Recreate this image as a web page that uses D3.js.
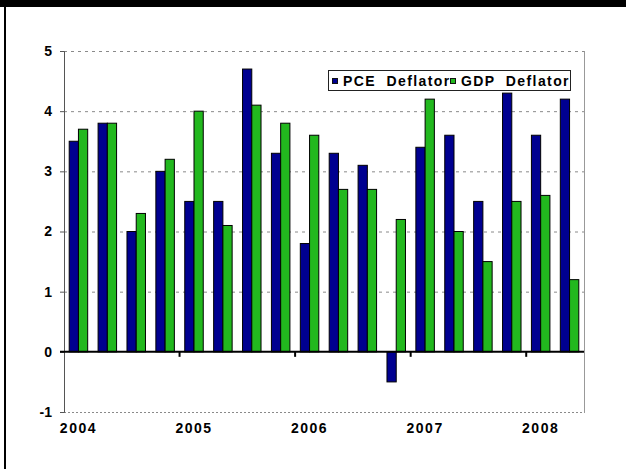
<!DOCTYPE html>
<html>
<head>
<meta charset="utf-8">
<script src="https://cdn.jsdelivr.net/npm/d3@7"></script>
<style>
  body { margin: 0; background: #fff; }
  text { font-family: "Liberation Sans", Arial, sans-serif; font-weight: bold; fill: #000; }
</style>
</head>
<body>
<div id="chart"></div>
<script>
// quarterly data, 2004Q1 .. 2008Q2
const quarters = ["2004Q1","2004Q2","2004Q3","2004Q4","2005Q1","2005Q2","2005Q3","2005Q4",
                  "2006Q1","2006Q2","2006Q3","2006Q4","2007Q1","2007Q2","2007Q3","2007Q4",
                  "2008Q1","2008Q2"];
const pceDeflator = [3.5, 3.8, 2.0, 3.0, 2.5, 2.5, 4.7, 3.3, 1.8, 3.3, 3.1, -0.5, 3.4, 3.6, 2.5, 4.3, 3.6, 4.2];
const gdpDeflator = [3.7, 3.8, 2.3, 3.2, 4.0, 2.1, 4.1, 3.8, 3.6, 2.7, 2.7, 2.2, 4.2, 2.0, 1.5, 2.5, 2.6, 1.2];
const yTicks = [-1, 0, 1, 2, 3, 4, 5];
const yearLabels = ["2004", "2005", "2006", "2007", "2008"];
const seriesNames = ["PCE  Deflator", "GDP  Deflator"];
const colors = ["#000090", "#22b81e"];

const W = 626, H = 469;
const plot = { left: 64, right: 584, top: 51, bottom: 412 };

const svg = d3.select("#chart").append("svg")
    .attr("width", W)
    .attr("height", H);

// outer frame (top band + left line)
svg.append("rect").attr("x", 0).attr("y", 0).attr("width", W).attr("height", 7).attr("fill", "#000");
svg.append("rect").attr("x", 4).attr("y", 0).attr("width", 2).attr("height", H).attr("fill", "#000");

var x = d3.scaleBand()
    .domain(quarters)
    .range([plot.left, plot.right])
    .paddingInner(0.36)
    .paddingOuter(0.18);

var y = d3.scaleLinear()
    .domain([-1, 5])
    .range([plot.bottom, plot.top]);

// gridlines
svg.append("g")
    .selectAll("line")
    .data(yTicks.filter(d => d != 0))
    .join("line")
    .attr("x1", plot.left)
    .attr("x2", plot.right)
    .attr("y1", d => y(d) + 0.5)
    .attr("y2", d => y(d) + 0.5)
    .attr("stroke", "#8a8a8a")
    .attr("stroke-width", 1)
    .attr("stroke-dasharray", d => d == -1 ? "2,2" : "3,4");

// right border of plot
svg.append("line")
    .attr("x1", plot.right + 0.5).attr("x2", plot.right + 0.5)
    .attr("y1", plot.top).attr("y2", plot.bottom + 1)
    .attr("stroke", "#999");

// left axis
var yAxis = svg.append("g")
    .attr("transform", `translate(${plot.left},0)`)
    .call(d3.axisLeft(y).tickValues(yTicks).tickSize(4).tickPadding(8).tickFormat(d => String(d)));
yAxis.select(".domain").attr("stroke", "#555");
yAxis.selectAll(".tick line").attr("stroke", "#555");
yAxis.selectAll("text")
    .style("font-size", "14px")
    .style("font-family", "Liberation Sans, Arial, sans-serif")
    .style("font-weight", "bold")
    .attr("fill", "#000");

// bars
const bw = x.bandwidth() / 2;
const series = [pceDeflator, gdpDeflator];
series.forEach(function (vals, si) {
    svg.append("g")
        .selectAll("rect")
        .data(vals)
        .join("rect")
        .attr("x", (d, i) => x(quarters[i]) + si * bw)
        .attr("y", d => y(Math.max(0, d)))
        .attr("width", bw)
        .attr("height", d => Math.abs(y(d) - y(0)))
        .attr("fill", colors[si])
        .attr("stroke", "#000")
        .attr("stroke-width", 1);
});

// zero line with year ticks
svg.append("line")
    .attr("x1", plot.left - 4).attr("x2", plot.right)
    .attr("y1", y(0)).attr("y2", y(0))
    .attr("stroke", "#000")
    .attr("stroke-width", 2);

const step = x.step();
svg.append("g")
    .selectAll("line")
    .data(yearLabels.slice(1))
    .join("line")
    .attr("x1", (d, i) => plot.left + (i + 1) * 4 * step)
    .attr("x2", (d, i) => plot.left + (i + 1) * 4 * step)
    .attr("y1", y(0))
    .attr("y2", y(0) + 5)
    .attr("stroke", "#000")
    .attr("stroke-width", 2);

// year labels under first quarter of each year
svg.append("g")
    .selectAll("text")
    .data(yearLabels)
    .join("text")
    .attr("x", (d, i) => x(quarters[i * 4]) + x.bandwidth() / 2)
    .attr("y", plot.bottom + 21)
    .attr("text-anchor", "middle")
    .style("font-size", "14px")
    .style("letter-spacing", "1.5px")
    .text(d => d);

// legend
var legend = svg.append("g");
legend.append("rect")
    .attr("x", 328.5).attr("y", 70.5)
    .attr("width", 242).attr("height", 20)
    .attr("fill", "#fff")
    .attr("stroke", "#222");

const legendX = [332, 450];
seriesNames.forEach(function (name, i) {
    legend.append("text")
        .attr("x", legendX[i] + 11)
        .attr("y", 85.5)
        .style("font-size", "14px")
        .style("letter-spacing", "1.4px")
        .style("white-space", "pre")
        .text(name);
});
seriesNames.forEach(function (name, i) {
    legend.append("rect")
        .attr("x", legendX[i] + 0.5).attr("y", 78.5)
        .attr("width", 5).attr("height", 5)
        .attr("fill", colors[i])
        .attr("stroke", "#111");
});
</script>
</body>
</html>
